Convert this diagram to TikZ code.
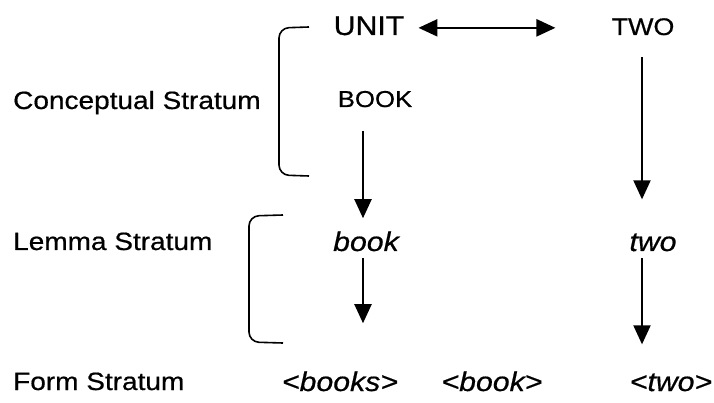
\documentclass[tikz,border=0pt]{standalone}
\usepackage{fontspec}
\setmainfont{Liberation Sans}[FakeStretch=1.12,FakeBold=0.6]
\usetikzlibrary{arrows.meta}
\begin{document}
\begin{tikzpicture}[x=1pt,y=-1pt,
  lbl/.style={anchor=base west, inner sep=0pt, font=\fontsize{25}{30}\selectfont},
  word/.style={anchor=base, inner sep=0pt, font=\fontsize{27}{32}\selectfont\itshape},
  concept/.style={anchor=base, inner sep=0pt},
  arr/.style={line width=2pt, -{Triangle[width=17pt,length=19pt]}},
  darr/.style={line width=2.4pt, {Triangle[width=17pt,length=19pt]}-{Triangle[width=17pt,length=19pt]}},
  brk/.style={line width=1.6pt, rounded corners=10pt}]
\useasboundingbox (0,0) rectangle (714,403);

% stratum labels
\node[lbl] (cs) at (13,109) {Conceptual Stratum};
\node[lbl] (ls) at (13,250) {Lemma Stratum};
\node[lbl] (fs) at (13,390) {Form Stratum};

% conceptual stratum
\node[concept, font=\fontsize{27}{32}\selectfont] (unit) at (369,35) {UNIT};
\node[concept, font=\fontsize{24}{28}\selectfont] (twoc) at (643,35) {TWO};
\node[concept, font=\fontsize{23}{28}\selectfont] (bookc) at (375,107) {BOOK};

% lemma stratum
\node[word] (book) at (366,251) {book};
\node[word] (two) at (653,251) {two};

% form stratum
\node[word] (books-f) at (340,391) {<books>};
\node[word] (book-f) at (492,391) {<book>};
\node[word] (two-f) at (671,391) {<two>};

% brackets
\draw[brk] (309,27) -- (279,28) -- (279,175) -- (309,176);
\draw[brk] (283,215) -- (249,216) -- (249,342) -- (283,343);

% connectors
\draw[darr, shorten <=14pt, shorten >=56pt] ([yshift=-2pt]unit.east) -- ([yshift=-2pt]unit.east -| twoc.west);
\draw[arr, shorten <=24pt, shorten >=13pt] ([xshift=-3pt]book.north |- bookc.south) -- ([xshift=-3pt]book.north);
\draw[arr, shorten <=7pt, shorten >=48pt] ([xshift=-3pt]book.south) -- ([xshift=-3pt]book.south |- books-f.north);
\draw[arr, shorten <=22pt, shorten >=34pt] ([xshift=-11pt]two.north |- twoc.south) -- ([xshift=-11pt]two.north);
\draw[arr, shorten <=7pt, shorten >=29pt] ([xshift=-11pt]two.south) -- ([xshift=-11pt]two.south |- two-f.north);
\end{tikzpicture}
\end{document}
